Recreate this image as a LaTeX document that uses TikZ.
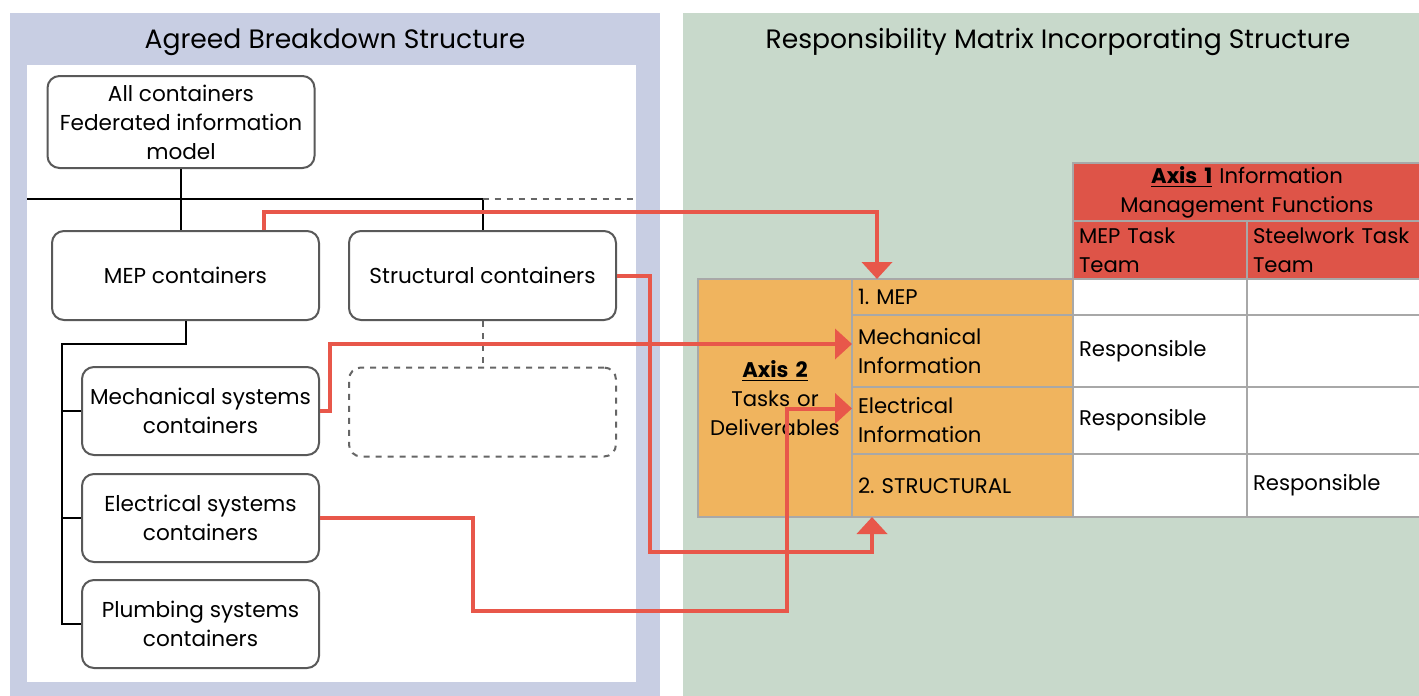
\documentclass[tikz,border=0pt]{standalone}
\usepackage{fontspec}
\setmainfont{Poppins}
\usetikzlibrary{positioning}
\usetikzlibrary{arrows.meta}
\definecolor{panelblue}{HTML}{C8CEE3}
\definecolor{panelgreen}{HTML}{C8D9CB}
\definecolor{axisred}{HTML}{DE5448}
\definecolor{axisorange}{HTML}{F0B45E}
\definecolor{flowred}{HTML}{E8574A}
\definecolor{cellline}{HTML}{A8A8A8}
\tikzset{>={Triangle[width=15pt,length=8.5pt]}}
\frenchspacing

\begin{document}
\begin{tikzpicture}[x=0.5pt, y=-0.5pt,
    box/.style={rectangle, rounded corners=6pt, draw=black!65, line width=1pt, fill=white, minimum width=133.5pt, minimum height=44.5pt, align=center, font=\fontsize{10.8}{14.5}\selectfont},
    subbox/.style={box, minimum width=118.5pt, minimum height=44pt},
    ghostbox/.style={box, dashed, draw=black!60},
    tree/.style={line width=1pt, black},
    treedash/.style={line width=1pt, black!60, dashed},
    paneltitle/.style={font=\fontsize{13.3}{16}\selectfont},
    cell/.style={rectangle, draw=cellline, line width=0.6pt, anchor=north west, inner xsep=3pt, inner ysep=0pt, outer sep=0pt, align=left, font=\fontsize{10.6}{14.5}\selectfont},
    rowcell/.style={cell, fill=axisorange, text width=104.5pt, minimum width=110.5pt},
    valcell/.style={cell, fill=white, text width=81pt, minimum width=87pt},
    headcell/.style={cell, fill=axisred, text width=81pt, minimum width=87pt, minimum height=29pt},
    flow/.style={->, flowred, line width=2pt}]

    \useasboundingbox (0,0) rectangle (1419,696);
    \fill[white] (0,0) rectangle (1419,696);

    %Panels
    \fill[panelblue] (10,13) rectangle (660,696);
    \fill[white] (27,65) rectangle (636,682);
    \fill[panelgreen] (683,13) rectangle (1419,696);
    \node[paneltitle] (left_title) at (335,42) {Agreed Breakdown Structure};
    \node[paneltitle] (right_title) at (1058,42) {Responsibility Matrix Incorporating Structure};

    %Tree nodes
    \node[box, minimum height=46pt] (all) at (181,122) {All containers\\Federated information\\model};
    \node[box] (mep) at (185.5,275.5) {MEP containers};
    \node[box] (struct) at (482.5,275.5) {Structural containers};
    \node[subbox] (mech) at (200.5,411) {Mechanical systems\\containers};
    \node[subbox] (elec) at (200.5,518) {Electrical systems\\containers};
    \node[subbox] (plumb) at (200.5,624) {Plumbing systems\\containers};
    \node[ghostbox] (spare) at (482.5,412) {};
    \coordinate (bus_left) at (27,199);
    \coordinate (bus_right) at (636,199);
    \coordinate (spine) at (62,344);

    %Tree lines
    \draw[tree] (all.south) -- (all.south |- mep.north);
    \draw[tree] (bus_left) -- (bus_left -| struct.north) -- (struct.north);
    \draw[treedash] (bus_left -| struct.north) -- (bus_right);
    \draw[treedash] (struct.south) -- (spare.north);
    \draw[tree] (mep.south) |- (spine) -- (spine |- plumb.west) -- (plumb.west);
    \draw[tree] (spine |- mech.west) -- (mech.west);
    \draw[tree] (spine |- elec.west) -- (elec.west);

    %Matrix
    \node[cell, fill=axisred, text width=168pt, minimum width=174pt, minimum height=29pt, align=center] (axis_one) at (1073,163) {\underline{\textbf{Axis 1}} Information\\Management Functions};
    \node[headcell] (team_mep) at (1073,221) {MEP Task\\Team};
    \node[headcell] (team_steel) at (1247,221) {Steelwork Task\\Team};
    \node[cell, fill=axisorange, text width=71pt, minimum width=77pt, minimum height=119pt, align=center] (axis_two) at (698,279) {\underline{\textbf{Axis 2}}\\Tasks or\\Deliverables};
    \node[rowcell, minimum height=18pt] (r_mep) at (852,279) {1. MEP};
    \node[rowcell, minimum height=36pt] (r_mech) at (852,315) {Mechanical\\Information};
    \node[rowcell, minimum height=33.5pt] (r_elec) at (852,387) {Electrical\\Information};
    \node[rowcell, minimum height=31.5pt] (r_struct) at (852,454) {2. STRUCTURAL};
    \node[valcell, minimum height=18pt] (mep_a) at (1073,279) {};
    \node[valcell, minimum height=18pt] (mep_b) at (1247,279) {};
    \node[valcell, minimum height=36pt] (mech_a) at (1073,315) {Responsible};
    \node[valcell, minimum height=36pt] (mech_b) at (1247,315) {};
    \node[valcell, minimum height=33.5pt] (elec_a) at (1073,387) {Responsible};
    \node[valcell, minimum height=33.5pt] (elec_b) at (1247,387) {};
    \node[valcell, minimum height=31.5pt] (struct_a) at (1073,454) {};
    \node[valcell, minimum height=31.5pt] (struct_b) at (1247,454) {Responsible};

    %Arrows
    \draw[flow] ([xshift=39pt]mep.north) -- ++(0,-18) -| ([xshift=12.5pt]r_mep.north west);
    \draw[flow] (struct.east) -- ++(33,0) -- ++(0,276) -| ([xshift=10pt]r_struct.south west);
    \draw[flow] (mech.east) -- ++(10,0) |- ([yshift=3.5pt]r_mech.west);
    \draw[flow] (elec.east) -- ++(153,0) -- ++(0,93) -- ++(314,0) |- ([yshift=6pt]r_elec.west);
\end{tikzpicture}
\end{document}
